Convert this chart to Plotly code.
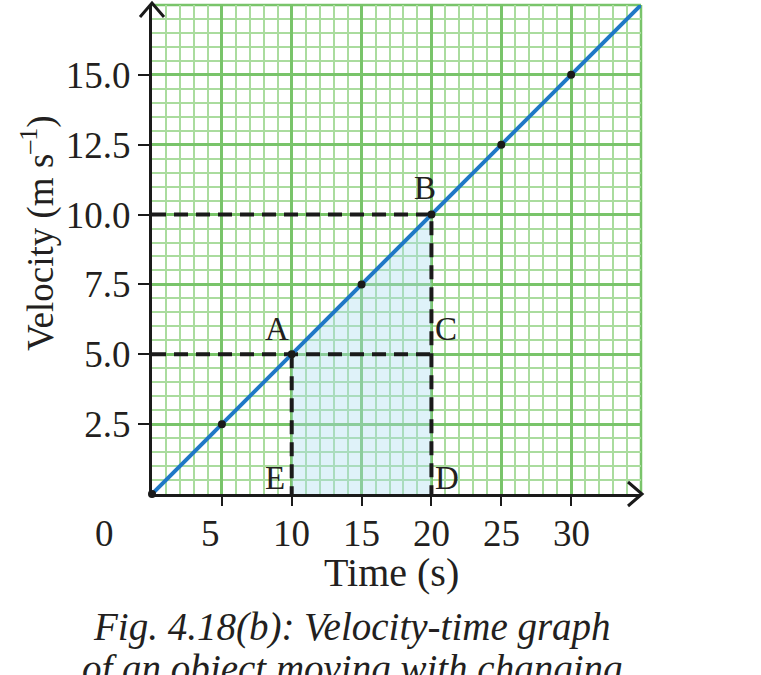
import plotly.graph_objects as go

# ---- data ----
line_t = [0, 35]
line_v = [0, 17.5]
pts_t = [0, 5, 10, 15, 20, 25, 30]
pts_v = [0, 2.5, 5, 7.5, 10, 12.5, 15]
area_t = [10, 20]
area_v = [5, 10]
A = (10, 5)
B = (20, 10)
x_ticks = [5, 10, 15, 20, 25, 30]
x_tick_labels = ["0", "5", "10", "15", "20", "25", "30"]
x_label_pos = [0, 5, 10, 15, 20, 25, 30]
y_ticks = [2.5, 5, 7.5, 10, 12.5, 15]
y_tick_labels = ["2.5", "5.0", "7.5", "10.0", "12.5", "15.0"]

W, H = 761, 675
L, R, T, Bm = 152, 120, 5, 181
PW, PH = W - L - R, H - T - Bm

FONT = "Liberation Serif"
MAJ = "#79c46a"
MIN = "#aadc9e"
BLUE = "#1f78c6"
TXT = "#231f20"


def px(xp):
    return (xp - L) / PW


def py(yp):
    return (H - Bm - yp) / PH


fig = go.Figure()

# shaded area under line between A and B
fig.add_trace(go.Scatter(x=area_t, y=area_v, mode="lines", line=dict(width=0),
                         fill="tozeroy", fillcolor="rgba(170,220,240,0.38)",
                         hoverinfo="skip", showlegend=False))

# dashed guide lines
dash = dict(color="#1a1a1a", width=4, dash="14px,8px")
fig.add_trace(go.Scatter(x=[0, B[0], B[0]], y=[B[1], B[1], 0], mode="lines",
                         line=dash, showlegend=False, hoverinfo="skip"))
fig.add_trace(go.Scatter(x=[0, B[0]], y=[A[1], A[1]], mode="lines",
                         line=dash, showlegend=False, hoverinfo="skip"))
fig.add_trace(go.Scatter(x=[A[0], A[0]], y=[A[1], 0], mode="lines",
                         line=dash, showlegend=False, hoverinfo="skip"))

# main line
fig.add_trace(go.Scatter(x=line_t, y=line_v, mode="lines",
                         line=dict(color=BLUE, width=4), showlegend=False))
fig.add_trace(go.Scatter(x=pts_t, y=pts_v, mode="markers",
                         marker=dict(color="#1a1a1a", size=8), showlegend=False,
                         cliponaxis=False))

fig.update_xaxes(range=[0, 35], tickvals=x_ticks, ticktext=[""] * len(x_ticks),
                 ticks="outside", ticklen=9, tickwidth=2, tickcolor="#1a1a1a",
                 showgrid=True, gridcolor=MAJ, gridwidth=2.5,
                 minor=dict(dtick=1, tick0=0, showgrid=True, gridcolor=MIN, gridwidth=1.5),
                 showline=True, linecolor="#1a1a1a", linewidth=3, zeroline=False,
                 fixedrange=True)
fig.update_yaxes(range=[0, 17.5], tickvals=y_ticks, ticktext=y_tick_labels,
                 ticks="outside", ticklen=11, tickwidth=2, tickcolor="#1a1a1a",
                 tickfont=dict(family=FONT, size=37, color=TXT),
                 showgrid=True, gridcolor=MAJ, gridwidth=2.5,
                 minor=dict(dtick=0.5, tick0=0, showgrid=True, gridcolor=MIN, gridwidth=1.5),
                 showline=True, linecolor="#1a1a1a", linewidth=3, zeroline=False,
                 ticklabelstandoff=0, fixedrange=True)

shapes = [
    # green top/right border
    dict(type="line", xref="paper", yref="paper", x0=0, x1=1, y0=1, y1=1,
         line=dict(color=MAJ, width=2.5), layer="below"),
    dict(type="line", xref="paper", yref="paper", x0=1, x1=1, y0=0, y1=1,
         line=dict(color=MAJ, width=2.5), layer="below"),
    # arrow heads
    dict(type="path", xref="paper", yref="paper",
         path=f"M {px(140)},{py(17)} L {px(152)},{py(3)} L {px(164)},{py(17)}",
         line=dict(color="#1a1a1a", width=3)),
    dict(type="path", xref="paper", yref="paper",
         path=f"M {px(628)},{py(482)} L {px(642)},{py(494)} L {px(628)},{py(506)}",
         line=dict(color="#1a1a1a", width=3)),
]

ann = []
xshifts = {"0": -48, "5": -11}
for lab, pos in zip(x_tick_labels, x_label_pos):
    ann.append(dict(x=pos, y=0, xref="x", yref="paper", text=lab, showarrow=False,
                    xanchor="center", yanchor="middle", yshift=-39,
                    xshift=xshifts.get(lab, 0),
                    font=dict(family=FONT, size=37, color=TXT)))

lab_font = dict(family=FONT, size=33, color=TXT)
for lx, ly, t, xs, ys in [(A[0], A[1], "A", -15, 25), (B[0], B[1], "B", -6, 27),
                          (B[0], A[1], "C", 15, 25), (A[0], 0, "E", -17, 16),
                          (B[0], 0, "D", 16, 16)]:
    ann.append(dict(x=lx, y=ly, text=t, showarrow=False, xshift=xs, yshift=ys,
                    xanchor="center", yanchor="middle", font=lab_font))

ann += [
    dict(x=px(391), y=py(572), xref="paper", yref="paper", text="Time (s)",
         xanchor="center", yanchor="middle",
         showarrow=False, font=dict(family=FONT, size=40, color=TXT)),
    dict(x=px(38), y=py(233), xref="paper", yref="paper",
         text="Velocity (m s<sup>–1</sup>)", textangle=-90,
         xanchor="center", yanchor="middle",
         showarrow=False, font=dict(family=FONT, size=37, color=TXT)),
    dict(x=px(352), y=py(627), xref="paper", yref="paper",
         text="<i>Fig. 4.18(b): Velocity-time graph</i>",
         xanchor="center", yanchor="middle",
         showarrow=False, font=dict(family=FONT, size=39, color=TXT)),
    dict(x=px(352), y=py(669), xref="paper", yref="paper",
         text="<i>of an object moving with changing</i>",
         xanchor="center", yanchor="middle",
         showarrow=False, font=dict(family=FONT, size=39, color=TXT)),
]

fig.update_layout(width=W, height=H, margin=dict(l=L, r=R, t=T, b=Bm),
                  plot_bgcolor="white", paper_bgcolor="white",
                  shapes=shapes, annotations=ann, showlegend=False)

fig.write_html("out.html", config={"displayModeBar": False})
